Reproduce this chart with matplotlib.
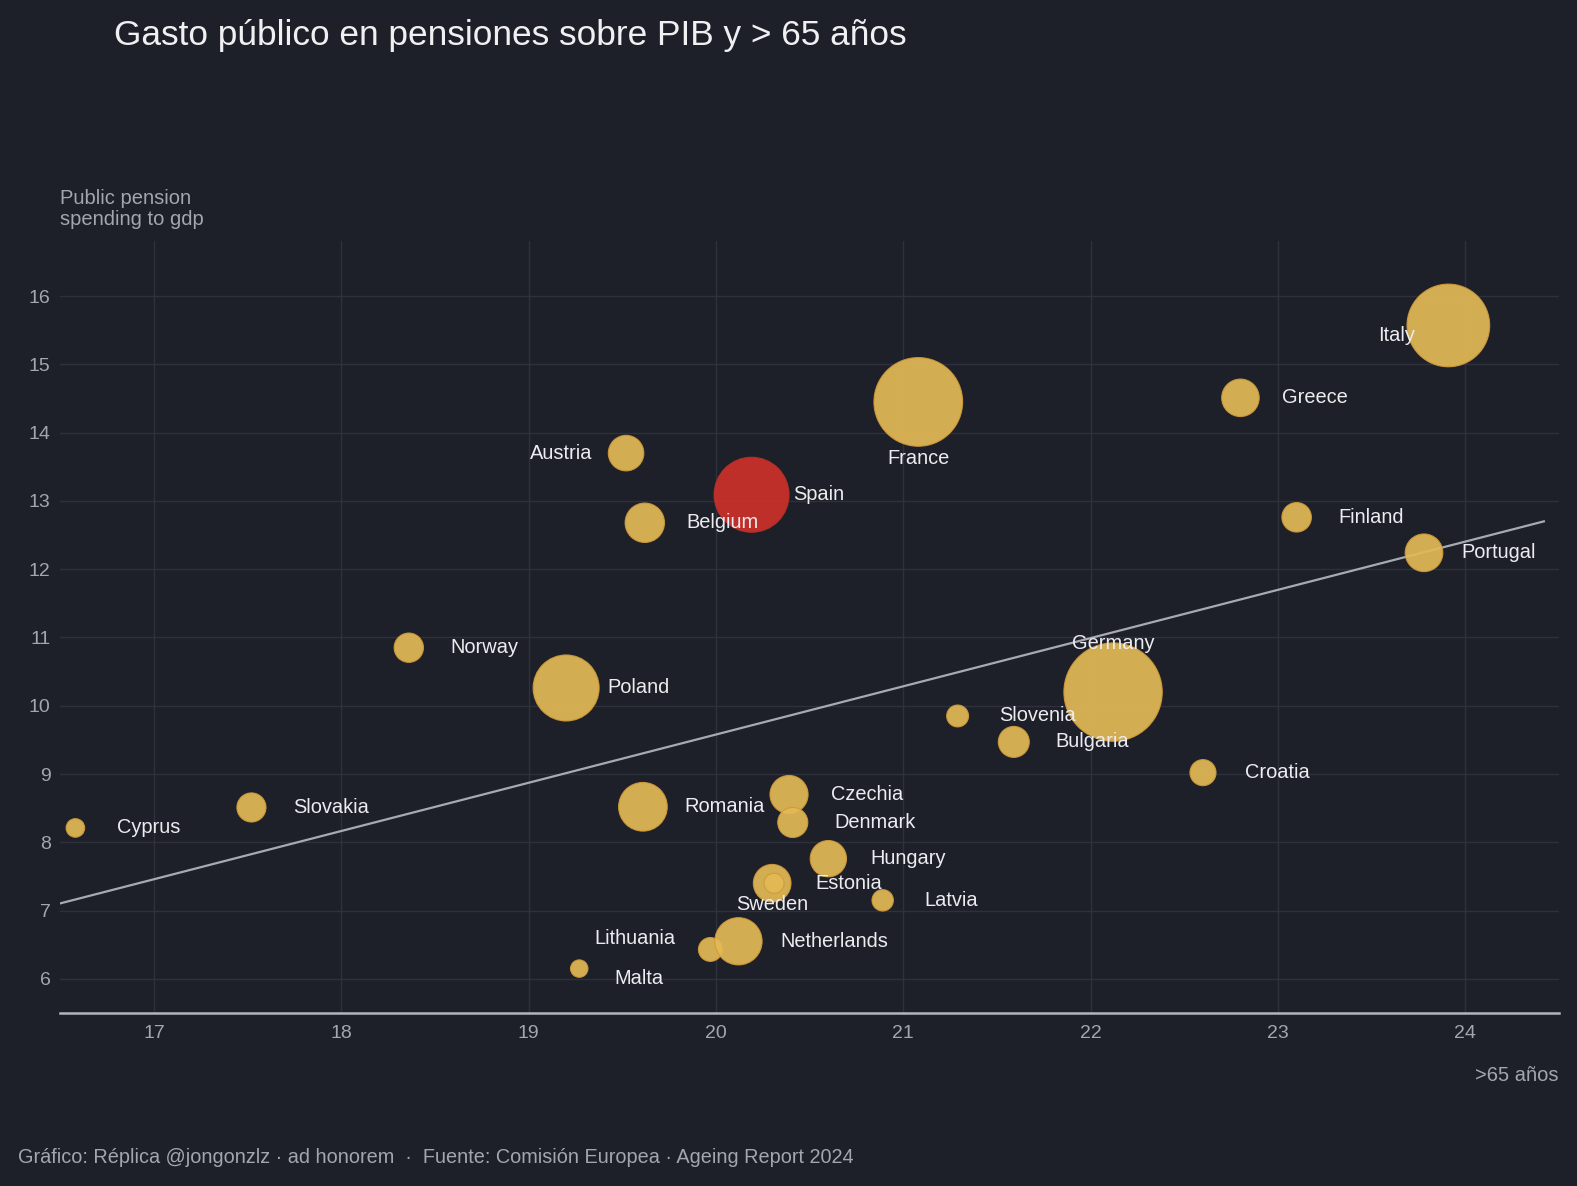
import numpy as np
import matplotlib
matplotlib.use('Agg')
import matplotlib.pyplot as plt

plt.rcParams['font.family'] = ['Liberation Sans', 'DejaVu Sans']

# data
countries = ['Italy', 'Greece', 'France', 'Austria', 'Spain', 'Belgium', 'Finland',
             'Portugal', 'Norway', 'Poland', 'Germany', 'Slovenia', 'Bulgaria',
             'Croatia', 'Czechia', 'Romania', 'Slovakia', 'Cyprus', 'Denmark',
             'Hungary', 'Sweden', 'Estonia', 'Latvia', 'Lithuania', 'Netherlands', 'Malta']
over65 = [23.91, 22.80, 21.08, 19.52, 20.19, 19.62, 23.10,
          23.78, 18.36, 19.20, 22.12, 21.29, 21.59,
          22.60, 20.39, 19.61, 17.52, 16.58, 20.41,
          20.60, 20.30, 20.31, 20.89, 19.97, 20.12, 19.27]
pension = [15.57, 14.51, 14.45, 13.70, 13.09, 12.68, 12.76,
           12.24, 10.85, 10.26, 10.20, 9.85, 9.47,
           9.02, 8.70, 8.52, 8.51, 8.21, 8.29,
           7.76, 7.40, 7.40, 7.15, 6.43, 6.55, 6.15]
population = [59.0, 10.4, 68.2, 9.1, 48.1, 11.7, 5.6,
              10.5, 5.5, 36.8, 84.4, 2.1, 6.4,
              3.9, 10.8, 19.0, 5.4, 0.9, 5.9,
              9.6, 10.5, 1.4, 1.9, 2.9, 17.8, 0.54]

# label placement (offset points, alignment)
R = 30
label_pos = {
    'Italy': (-24, -7, 'right'), 'Austria': (-24, 0, 'right'),
    'France': (0, -41, 'center'), 'Germany': (0, 35, 'center'),
    'Sweden': (0, -15, 'center'), 'Lithuania': (-25, 8, 'right'),
    'Malta': (25, -7, 'left'), 'Portugal': (27, 0, 'left'),
}

BG = '#1e2029'
GOLD = '#e4ba56'
RED = '#ce312a'

fig = plt.figure(figsize=(15.77, 11.86), dpi=100, facecolor=BG)
ax = fig.add_axes([0.0383, 0.1459, 0.9502, 0.6505], facecolor=BG)

x = np.array(over65)
y = np.array(pension)
pop = np.array(population)
sizes = 126.5 + 57.9 * pop
colors = [RED if c == 'Spain' else GOLD for c in countries]
edges = ['#b8302a' if c == 'Spain' else '#d09a38' for c in countries]

# trend line
k, b = np.polyfit(x, y, 1)
xl = np.array([16.5, 24.42])
ax.plot(xl, k * xl + b, color='#a8aab2', lw=1.6, zorder=2)

ax.scatter(x, y, s=sizes, c=colors, alpha=0.92, edgecolors=edges,
           linewidths=0.8, zorder=3)

for c, xi, yi in zip(countries, x, y):
    dx, dy, ha = label_pos.get(c, (R, 0, 'left'))
    ax.annotate(c, (xi, yi), xytext=(dx, dy), textcoords='offset points',
                ha=ha, va='center', fontsize=14.4, color='#ececf0', zorder=4)

ax.set_xlim(16.5, 24.5)
ax.set_ylim(5.5, 16.8)
ax.set_xticks(range(17, 25))
ax.set_yticks(range(6, 17))
ax.grid(True, color='#2e313c', lw=1)
ax.set_axisbelow(True)
for s in ['left', 'right', 'top']:
    ax.spines[s].set_visible(False)
ax.spines['bottom'].set_color('#b4b6be')
ax.spines['bottom'].set_linewidth(1.8)
ax.tick_params(length=0, labelsize=14, colors='#a4a6ae')
ax.tick_params(axis='y', pad=7)
ax.tick_params(axis='x', pad=9)

fig.text(0.072, 0.984, 'Gasto público en pensiones sobre PIB y > 65 años',
         fontsize=25.4, color='#f0f0f2', va='top')
fig.text(0.038, 0.841, 'Public pension\nspending to gdp', fontsize=14.5,
         color='#a4a6ae', va='top', linespacing=1.15)
fig.text(0.9885, 0.093, '>65 años', fontsize=14.5, color='#a4a6ae',
         ha='right', va='center')
fig.text(0.0115, 0.024, 'Gráfico: Réplica @jongonzlz · ad honorem  ·  Fuente: Comisión Europea · Ageing Report 2024',
         fontsize=14.3, color='#a4a6ae', va='center')

fig.savefig('out.png', dpi=100, facecolor=BG)
